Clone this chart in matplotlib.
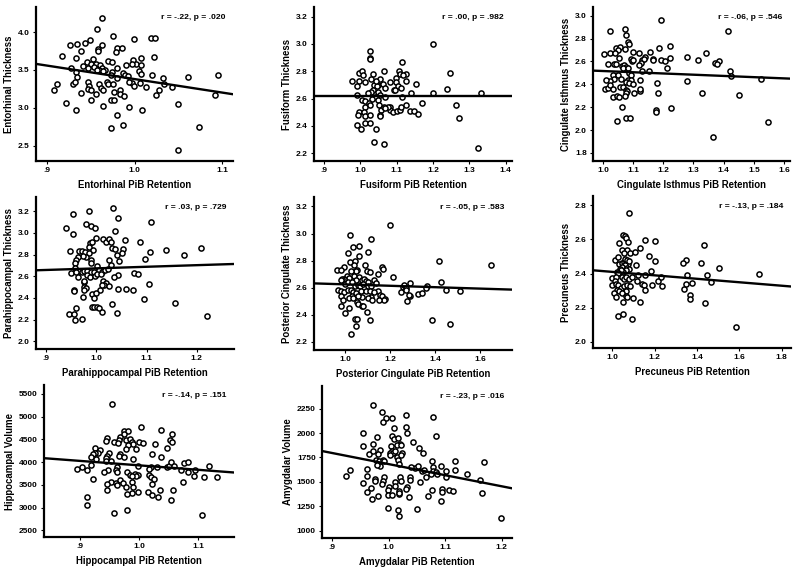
import numpy as np
import matplotlib
matplotlib.use("Agg")
import matplotlib.pyplot as plt

plt.rcParams['font.family'] = ['Liberation Sans', 'DejaVu Sans']
plt.rcParams['font.weight'] = 'bold'

# ---- Entorhinal ----
ent_x = [0.9625, 0.957, 0.975, 0.999, 1.019, 1.023, 0.949, 0.944, 0.935, 0.927, 0.963, 0.980, 0.986, 0.959, 0.959,
         0.939, 0.979, 0.918, 0.934, 1.022, 1.007, 0.953, 0.998, 1.002, 0.970, 0.974, 0.946, 0.950, 0.956, 0.961,
         0.942, 0.947, 0.954, 0.963, 1.007, 0.990, 0.997, 0.980, 0.928, 0.967, 0.960, 0.964, 0.957, 0.974, 0.973,
         0.987, 0.989, 1.005, 1.007, 1.020, 1.032, 1.061, 1.095, 0.933, 0.935, 0.993, 0.980, 0.997, 0.912, 0.908,
         0.939, 0.930, 0.932, 0.947, 0.948, 0.947, 0.960, 0.962, 0.964, 0.969, 0.970, 0.975, 0.977, 0.984, 0.983,
         0.994, 0.999, 1.006, 1.013, 1.034, 1.028, 1.025, 1.043, 0.950, 0.956, 0.950, 0.922, 0.933, 0.964, 0.973,
         0.977, 0.988, 0.994, 1.008, 1.050, 0.980, 0.973, 0.987, 1.073, 1.050, 1.092]
ent_y = [4.19, 4.04, 3.95, 3.91, 3.92, 3.92, 3.90, 3.86, 3.84, 3.83, 3.83, 3.79, 3.79, 3.77, 3.75,
         3.75, 3.74, 3.68, 3.66, 3.67, 3.66, 3.65, 3.63, 3.58, 3.62, 3.60, 3.60, 3.58, 3.58, 3.56,
         3.55, 3.53, 3.54, 3.53, 3.57, 3.57, 3.58, 3.53, 3.52, 3.50, 3.50, 3.48, 3.50, 3.47, 3.44,
         3.46, 3.44, 3.48, 3.45, 3.43, 3.40, 3.41, 3.44, 3.47, 3.41, 3.42, 3.40, 3.33, 3.32, 3.24,
         3.19, 3.32, 3.34, 3.34, 3.29, 3.25, 3.32, 3.26, 3.23, 3.34, 3.31, 3.31, 3.21, 3.23, 3.18,
         3.34, 3.29, 3.33, 3.28, 3.32, 3.24, 3.17, 3.27, 3.23, 3.18, 3.10, 3.06, 2.97, 3.03, 3.10,
         3.10, 3.16, 3.01, 2.97, 3.05, 2.91, 2.74, 2.78, 2.75, 2.45, 3.17]

# ---- Fusiform ----
fus_x = [1.201, 1.028, 1.028, 1.028, 1.116, 1.247, 0.977, 0.997, 1.006, 0.996, 1.008, 1.035, 1.064, 1.107, 1.109,
         1.127, 1.118, 1.098, 1.083, 1.055, 1.012, 1.030, 1.050, 1.062, 1.039, 1.045, 1.035, 1.030, 1.067, 1.099,
         1.104, 1.125, 1.152, 1.113, 1.093, 1.095, 1.021, 1.049, 1.054, 1.067, 1.040, 1.033, 1.049, 1.139, 1.115,
         1.200, 1.239, 1.333, 0.990, 1.005, 1.014, 1.023, 1.012, 1.028, 1.051, 1.056, 1.064, 1.081, 1.083, 1.090,
         1.077, 0.997, 0.995, 1.011, 1.014, 1.028, 1.053, 1.055, 1.067, 1.101, 1.109, 1.113, 1.127, 1.138, 1.149,
         1.158, 1.171, 1.263, 1.271, 0.992, 1.002, 1.014, 1.027, 1.043, 1.037, 1.065, 1.324, 0.990, 1.044]
fus_y = [3.00, 2.95, 2.895, 2.89, 2.87, 2.79, 2.73, 2.79, 2.80, 2.73, 2.77, 2.78, 2.80, 2.80, 2.78,
         2.78, 2.77, 2.75, 2.72, 2.74, 2.72, 2.74, 2.70, 2.71, 2.70, 2.69, 2.66, 2.65, 2.68, 2.72,
         2.69, 2.73, 2.71, 2.68, 2.66, 2.66, 2.64, 2.65, 2.63, 2.61, 2.61, 2.60, 2.59, 2.64, 2.61,
         2.64, 2.67, 2.64, 2.63, 2.59, 2.58, 2.57, 2.54, 2.55, 2.55, 2.52, 2.54, 2.54, 2.52, 2.50,
         2.54, 2.50, 2.48, 2.50, 2.47, 2.48, 2.48, 2.47, 2.53, 2.51, 2.52, 2.54, 2.55, 2.51, 2.51,
         2.49, 2.57, 2.55, 2.46, 2.41, 2.38, 2.42, 2.42, 2.38, 2.28, 2.27, 2.24, 2.69, 2.73]

# ---- Cingulate Isthmus ----
cis_x = [1.194, 1.025, 1.073, 1.413, 1.075, 1.082, 1.085, 1.044, 1.055, 1.049, 1.072, 1.223, 1.185, 1.003, 1.025,
         1.041, 1.099, 1.118, 1.157, 1.340, 1.052, 1.092, 1.095, 1.100, 1.131, 1.138, 1.135, 1.165, 1.167, 1.193,
         1.206, 1.222, 1.277, 1.314, 1.372, 1.383, 1.379, 1.018, 1.038, 1.042, 1.062, 1.071, 1.075, 1.066, 1.082,
         1.127, 1.119, 1.213, 1.151, 1.131, 1.422, 1.425, 1.279, 1.523, 1.033, 1.051, 1.061, 1.087, 1.094, 1.082,
         1.093, 1.075, 1.087, 1.035, 1.025, 1.010, 1.123, 1.007, 1.018, 1.023, 1.033, 1.055, 1.065, 1.075, 1.080,
         1.098, 1.103, 1.122, 1.124, 1.178, 1.181, 1.327, 1.451, 1.034, 1.045, 1.053, 1.076, 1.073, 1.063, 1.227,
         1.176, 1.175, 1.048, 1.077, 1.090, 1.546, 1.364]
cis_y = [2.965, 2.87, 2.88, 2.87, 2.83, 2.77, 2.75, 2.72, 2.73, 2.70, 2.71, 2.735, 2.72, 2.665, 2.67,
         2.67, 2.68, 2.67, 2.68, 2.67, 2.63, 2.62, 2.60, 2.61, 2.61, 2.64, 2.62, 2.62, 2.61, 2.61,
         2.60, 2.63, 2.64, 2.61, 2.59, 2.60, 2.58, 2.58, 2.58, 2.575, 2.56, 2.565, 2.55, 2.54, 2.54,
         2.59, 2.57, 2.54, 2.52, 2.52, 2.52, 2.47, 2.43, 2.45, 2.48, 2.48, 2.45, 2.50, 2.48, 2.44,
         2.44, 2.42, 2.41, 2.45, 2.43, 2.44, 2.44, 2.36, 2.37, 2.39, 2.36, 2.38, 2.38, 2.35, 2.34,
         2.40, 2.32, 2.34, 2.36, 2.41, 2.32, 2.32, 2.31, 2.29, 2.30, 2.29, 2.32, 2.30, 2.20, 2.19,
         2.18, 2.16, 2.08, 2.105, 2.105, 2.07, 1.94]

# ---- Parahippocampal ----
par_x = [1.033, 0.985, 0.954, 1.044, 0.979, 0.989, 0.998, 1.108, 0.939, 0.953, 1.038, 1.000, 1.014, 1.019, 1.025,
         1.029, 0.988, 0.991, 1.058, 1.086, 0.986, 1.032, 1.037, 1.054, 1.139, 1.209, 1.106, 0.966, 0.972, 0.977,
         0.948, 0.993, 0.986, 0.980, 0.974, 1.041, 1.051, 1.175, 0.963, 1.096, 0.960, 0.958, 0.989, 0.989, 1.026,
         1.045, 1.029, 0.958, 0.966, 0.971, 0.975, 0.982, 0.989, 0.995, 1.001, 1.005, 0.950, 0.960, 1.011, 1.018,
         1.023, 1.076, 1.082, 0.963, 0.981, 0.987, 0.998, 1.002, 1.010, 1.044, 1.035, 0.975, 0.976, 1.013, 1.019,
         1.016, 1.025, 0.976, 0.979, 0.956, 0.956, 0.975, 1.007, 1.011, 0.991, 0.999, 1.044, 1.060, 1.074, 1.105,
         0.974, 0.996, 1.094, 1.156, 1.032, 0.959, 0.991, 0.995, 1.001, 1.006, 1.011, 1.042, 0.946, 0.956, 0.957,
         0.971, 1.220]
par_y = [3.23, 3.20, 3.17, 3.14, 3.08, 3.06, 3.04, 3.10, 3.04, 2.99, 3.02, 2.955, 2.94, 2.92, 2.94,
         2.92, 2.91, 2.92, 2.93, 2.92, 2.87, 2.86, 2.85, 2.85, 2.84, 2.86, 2.82, 2.83, 2.83, 2.82,
         2.83, 2.84, 2.81, 2.78, 2.79, 2.80, 2.81, 2.80, 2.78, 2.76, 2.75, 2.72, 2.75, 2.72, 2.75,
         2.74, 2.70, 2.68, 2.65, 2.64, 2.65, 2.65, 2.64, 2.64, 2.69, 2.66, 2.63, 2.64, 2.64, 2.66,
         2.67, 2.63, 2.62, 2.59, 2.61, 2.59, 2.60, 2.62, 2.62, 2.61, 2.59, 2.55, 2.56, 2.56, 2.54,
         2.52, 2.51, 2.50, 2.49, 2.47, 2.46, 2.47, 2.47, 2.52, 2.44, 2.45, 2.48, 2.485, 2.47, 2.53,
         2.41, 2.40, 2.39, 2.35, 2.345, 2.31, 2.32, 2.32, 2.32, 2.31, 2.27, 2.26, 2.25, 2.25, 2.20,
         2.21, 2.23]

# ---- Posterior Cingulate ----
pcc_x = [1.198, 1.019, 1.114, 1.033, 1.061, 1.013, 1.101, 1.061, 1.418, 1.022, 1.042, 1.039, 1.088, 1.648, 0.994,
         1.052, 1.048, 1.037, 1.165, 1.169, 1.097, 1.111, 1.027, 0.961, 0.981, 1.144, 1.212, 1.009, 1.018, 0.996,
         0.985, 0.979, 1.059, 1.048, 1.073, 1.083, 1.094, 1.103, 1.128, 0.999, 1.013, 1.031, 1.042, 1.055, 1.065,
         1.080, 1.103, 1.116, 1.138, 1.256, 1.262, 1.270, 1.288, 1.363, 1.360, 1.428, 1.248, 1.272, 1.450, 1.513,
         0.966, 0.981, 0.996, 1.010, 1.027, 1.034, 1.046, 1.068, 1.091, 1.108, 1.144, 1.129, 1.155, 1.165, 1.176,
         1.171, 1.114, 1.100, 1.073, 1.120, 1.150, 0.981, 0.988, 1.030, 1.015, 1.036, 1.058, 1.275, 1.288, 1.325,
         1.343, 1.284, 0.981, 0.999, 1.015, 1.053, 1.058, 1.073, 1.079, 1.098, 1.110, 1.045, 1.051, 1.048, 1.027,
         1.386, 1.468]
pcc_y = [3.065, 2.986, 2.96, 2.90, 2.91, 2.856, 2.866, 2.836, 2.80, 2.79, 2.80, 2.77, 2.77, 2.765, 2.75,
         2.73, 2.72, 2.69, 2.75, 2.74, 2.725, 2.716, 2.72, 2.73, 2.73, 2.70, 2.68, 2.684, 2.672, 2.664,
         2.667, 2.655, 2.68, 2.655, 2.655, 2.664, 2.647, 2.64, 2.66, 2.63, 2.64, 2.645, 2.613, 2.623, 2.61,
         2.63, 2.61, 2.61, 2.637, 2.605, 2.617, 2.60, 2.635, 2.61, 2.60, 2.64, 2.569, 2.58, 2.58, 2.576,
         2.58, 2.573, 2.568, 2.58, 2.58, 2.566, 2.56, 2.576, 2.576, 2.573, 2.576, 2.568, 2.549, 2.54, 2.52,
         2.507, 2.532, 2.524, 2.534, 2.51, 2.51, 2.537, 2.507, 2.539, 2.527, 2.527, 2.537, 2.505, 2.54, 2.556,
         2.56, 2.546, 2.463, 2.416, 2.453, 2.492, 2.478, 2.468, 2.463, 2.42, 2.36, 2.372, 2.372, 2.316, 2.26,
         2.365, 2.335]

# ---- Precuneus ----
prc_x = [1.079, 1.050, 1.058, 1.066, 1.033, 1.075, 1.153, 1.203, 1.431, 1.047, 1.071, 1.055, 1.082, 1.129, 1.107,
         1.175, 1.200, 1.013, 1.027, 1.346, 1.333, 1.420, 1.502, 1.110, 1.031, 1.044, 1.055, 1.066, 1.075, 1.060,
         1.047, 1.068, 1.035, 1.077, 1.063, 1.053, 1.042, 1.022, 1.027, 1.058, 1.069, 1.080, 1.123, 1.184, 1.156,
         1.000, 1.016, 1.011, 1.047, 1.055, 1.066, 1.077, 1.091, 1.115, 1.140, 1.148, 1.154, 1.187, 1.215, 1.231,
         1.236, 1.355, 1.338, 1.349, 1.376, 1.447, 1.464, 1.695, 1.000, 1.016, 1.025, 1.039, 1.055, 1.071, 1.085,
         1.020, 1.030, 1.066, 1.008, 1.046, 1.066, 1.071, 1.019, 1.096, 1.050, 1.368, 1.369, 1.440, 1.132, 1.025,
         1.050, 1.093, 1.585]
prc_y = [2.753, 2.628, 2.620, 2.609, 2.578, 2.583, 2.599, 2.593, 2.568, 2.539, 2.539, 2.519, 2.519, 2.550, 2.527,
         2.503, 2.476, 2.480, 2.496, 2.480, 2.460, 2.462, 2.435, 2.453, 2.457, 2.460, 2.470, 2.464, 2.457, 2.449,
         2.441, 2.433, 2.429, 2.425, 2.418, 2.410, 2.421, 2.410, 2.402, 2.484, 2.480, 2.474, 2.392, 2.412, 2.390,
         2.371, 2.379, 2.359, 2.379, 2.367, 2.379, 2.367, 2.379, 2.357, 2.340, 2.330, 2.304, 2.332, 2.357, 2.379,
         2.326, 2.394, 2.312, 2.336, 2.347, 2.394, 2.349, 2.398, 2.334, 2.340, 2.334, 2.318, 2.324, 2.334, 2.324,
         2.304, 2.297, 2.295, 2.285, 2.285, 2.269, 2.261, 2.261, 2.258, 2.234, 2.273, 2.248, 2.228, 2.234, 2.152,
         2.164, 2.135, 2.084]

# ---- Hippocampal ----
hip_x = [0.954, 1.003, 1.037, 1.056, 0.945, 0.975, 0.981, 0.975, 0.968, 0.966, 0.944, 0.958, 0.964, 0.978, 0.985,
         0.988, 0.990, 0.999, 1.006, 0.981, 0.977, 0.995, 1.027, 1.047, 1.052, 1.055, 0.926, 0.934, 0.930, 0.926,
         0.922, 0.918, 0.949, 0.946, 0.944, 0.967, 0.965, 0.975, 1.037, 1.021, 0.927, 0.944, 0.953, 0.990, 0.919,
         0.904, 0.963, 0.961, 0.963, 0.997, 1.019, 1.016, 1.030, 1.047, 1.051, 1.054, 1.059, 1.075, 1.083, 1.071,
         1.082, 1.094, 1.117, 0.894, 0.912, 0.947, 0.940, 0.980, 0.985, 0.992, 0.997, 0.994, 0.988, 1.017, 1.019,
         1.092, 1.110, 1.131, 0.921, 0.952, 0.960, 0.963, 0.968, 0.972, 0.977, 0.988, 0.990, 1.022, 1.024, 0.945,
         0.945, 1.073, 1.057, 1.035, 1.014, 1.021, 1.032, 0.997, 0.987, 0.979, 0.912, 0.912, 1.053, 0.958, 0.979,
         1.106]
hip_y = [5273, 4783, 4710, 4629, 4534, 4695, 4695, 4622, 4563, 4490, 4468, 4446, 4417, 4490, 4504,
         4446, 4402, 4446, 4431, 4373, 4285, 4285, 4402, 4307, 4490, 4453, 4321, 4270, 4212, 4212,
         4183, 4117, 4212, 4139, 4102, 4175, 4139, 4124, 4109, 4183, 4065, 4014, 4021, 4065, 3941,
         3890, 3890, 3831, 3780, 3919, 3890, 3846, 3883, 3890, 3919, 3992, 3919, 3977, 3999, 3831,
         3773, 3831, 3919, 3846, 3831, 3831, 3773, 3773, 3722, 3743, 3722, 3685, 3685, 3722, 3670,
         3685, 3670, 3663, 3626, 3560, 3538, 3494, 3611, 3538, 3450, 3553, 3450, 3516, 3633, 3516,
         3384, 3553, 3392, 3377, 3333, 3282, 3223, 3333, 3318, 3304, 3230, 3062, 3158, 2879, 2938,
         2843]

# ---- Amygdalar ----
amy_x = [0.972, 0.988, 1.006, 0.995, 0.990, 1.030, 1.078, 1.010, 1.030, 1.032, 0.955, 1.006, 1.009, 1.017, 1.020,
         1.015, 1.084, 0.979, 0.972, 1.043, 0.955, 1.054, 1.061, 0.965, 1.015, 1.017, 1.076, 1.118, 1.169, 1.018,
         1.047, 1.052, 1.092, 0.984, 0.962, 1.039, 1.101, 1.118, 1.138, 1.162, 1.059, 1.062, 0.931, 0.961, 0.925,
         1.101, 1.078, 0.976, 0.976, 1.022, 1.004, 1.005, 1.002, 1.008, 1.011, 1.003, 1.024, 1.021, 0.984, 0.981,
         0.972, 0.978, 0.982, 0.989, 0.992, 0.979, 1.078, 1.084, 1.085, 1.066, 1.074, 0.992, 0.990, 0.988, 1.011,
         1.011, 1.020, 1.022, 1.038, 1.038, 1.056, 0.955, 0.968, 1.001, 0.998, 1.019, 1.033, 1.031, 1.036, 1.077,
         1.094, 1.095, 1.106, 1.114, 1.165, 0.981, 0.962, 0.970, 0.998, 1.005, 1.019, 1.019, 1.069, 1.092, 1.050,
         0.998, 1.016, 1.018, 1.199]
amy_y = [2291, 2216, 2158, 2154, 2110, 2182, 2165, 2052, 2066, 2004, 2004, 1970, 1936, 1946, 1885,
         1878, 1967, 1956, 1888, 1909, 1871, 1850, 1799, 1785, 1758, 1724, 1717, 1710, 1707, 1680,
         1646, 1667, 1663, 1666, 1628, 1649, 1615, 1621, 1577, 1519, 1611, 1620, 1622, 1564, 1560,
         1547, 1656, 1526, 1505, 1874, 1868, 1820, 1792, 1799, 1816, 1775, 1796, 1772, 1827, 1786,
         1820, 1724, 1714, 1724, 1714, 1673, 1611, 1605, 1581, 1553, 1581, 1553, 1512, 1475, 1499,
         1458, 1553, 1512, 1547, 1519, 1502, 1492, 1434, 1451, 1417, 1410, 1444, 1430, 1345, 1417,
         1424, 1400, 1417, 1406, 1389, 1359, 1396, 1328, 1366, 1366, 1372, 1389, 1355, 1307, 1222,
         1236, 1212, 1150, 1126]

# fitted lines as drawn in the picture: value at left and right end of each x range
fit_left = [3.58, 2.62, 2.52, 2.655, 2.632, 2.419, 4087, 1816]
fit_right = [3.18, 2.62, 2.45, 2.713, 2.586, 2.324, 3772, 1434]

# panel texts and ticks
panels = [
    dict(x=ent_x, y=ent_y, xlab="Entorhinal PiB Retention", ylab="Entorhinal Thickness", stat="r = -.22, p = .020",
         xt=[0.9, 1.0, 1.1], xtl=[".9", "1.0", "1.1"], yt=[2.5, 3.0, 3.5, 4.0], ytl=["2.5", "3.0", "3.5", "4.0"],
         xlim=(0.888, 1.112), ylim=(2.30, 4.33), px=(36, 233, 7, 161)),
    dict(x=fus_x, y=fus_y, xlab="Fusiform PiB Retention", ylab="Fusiform Thickness", stat="r = .00, p = .982",
         xt=[0.9, 1.0, 1.1, 1.2, 1.3, 1.4], xtl=[".9", "1.0", "1.1", "1.2", "1.3", "1.4"],
         yt=[2.2, 2.4, 2.6, 2.8, 3.0, 3.2], ytl=["2.2", "2.4", "2.6", "2.8", "3.0", "3.2"],
         xlim=(0.873, 1.417), ylim=(2.144, 3.27), px=(314, 512, 7, 161)),
    dict(x=cis_x, y=cis_y, xlab="Cingulate Isthmus PiB Retention", ylab="Cingulate Isthmus Thickness",
         stat="r = -.06, p = .546",
         xt=[1.0, 1.1, 1.2, 1.3, 1.4, 1.5, 1.6], xtl=["1.0", "1.1", "1.2", "1.3", "1.4", "1.5", "1.6"],
         yt=[1.8, 2.0, 2.2, 2.4, 2.6, 2.8, 3.0], ytl=["1.8", "2.0", "2.2", "2.4", "2.6", "2.8", "3.0"],
         xlim=(0.967, 1.62), ylim=(1.73, 3.076), px=(593, 790, 7, 161)),
    dict(x=par_x, y=par_y, xlab="Parahippocampal PiB Retention", ylab="Parahippocampal Thickness",
         stat="r = .03, p = .729",
         xt=[0.9, 1.0, 1.1, 1.2], xtl=[".9", "1.0", "1.1", "1.2"],
         yt=[2.0, 2.2, 2.4, 2.6, 2.8, 3.0, 3.2], ytl=["2.0", "2.2", "2.4", "2.6", "2.8", "3.0", "3.2"],
         xlim=(0.880, 1.274), ylim=(1.93, 3.33), px=(36, 234, 197, 349)),
    dict(x=pcc_x, y=pcc_y, xlab="Posterior Cingulate PiB Retention", ylab="Posterior Cingulate Thickness",
         stat="r = -.05, p = .583",
         xt=[1.0, 1.2, 1.4, 1.6], xtl=["1.0", "1.2", "1.4", "1.6"],
         yt=[2.2, 2.4, 2.6, 2.8, 3.0, 3.2], ytl=["2.2", "2.4", "2.6", "2.8", "3.0", "3.2"],
         xlim=(0.860, 1.743), ylim=(2.14, 3.27), px=(314, 512, 197, 350)),
    dict(x=prc_x, y=prc_y, xlab="Precuneus PiB Retention", ylab="Precuneus Thickness", stat="r = -.13, p = .184",
         xt=[1.0, 1.2, 1.4, 1.6, 1.8], xtl=["1.0", "1.2", "1.4", "1.6", "1.8"],
         yt=[2.0, 2.2, 2.4, 2.6, 2.8], ytl=["2.0", "2.2", "2.4", "2.6", "2.8"],
         xlim=(0.909, 1.844), ylim=(1.963, 2.855), px=(593, 791, 196, 348)),
    dict(x=hip_x, y=hip_y, xlab="Hippocampal PiB Retention", ylab="Hippocampal Volume", stat="r = -.14, p = .151",
         xt=[0.9, 1.0, 1.1], xtl=[".9", "1.0", "1.1"],
         yt=[2500, 3000, 3500, 4000, 4500, 5000, 5500],
         ytl=["2500", "3000", "3500", "4000", "4500", "5000", "5500"],
         xlim=(0.839, 1.160), ylim=(2352, 5698), px=(44, 234, 385, 537)),
    dict(x=amy_x, y=amy_y, xlab="Amygdalar PiB Retention", ylab="Amygdalar Volume", stat="r = -.23, p = .016",
         xt=[0.9, 1.0, 1.1, 1.2], xtl=[".9", "1.0", "1.1", "1.2"],
         yt=[1000, 1250, 1500, 1750, 2000, 2250], ytl=["1000", "1250", "1500", "1750", "2000", "2250"],
         xlim=(0.882, 1.218), ylim=(925, 2482), px=(322, 512, 386, 538)),
]

W, H = 800, 576
fig = plt.figure(figsize=(8, 5.76), dpi=100)

for i, p in enumerate(panels):
    l, r, t, b = p["px"]
    ax = fig.add_axes([l / W, 1 - b / H, (r - l) / W, (b - t) / H])
    ax.plot(p["x"], p["y"], 'o', mfc='white', mec='black', ms=3.7, mew=1.1, zorder=3)
    ax.plot(p["xlim"], [fit_left[i], fit_right[i]], color='black', lw=1.7, zorder=4)
    ax.set_xlim(p["xlim"])
    ax.set_ylim(p["ylim"])
    ax.set_xticks(p["xt"])
    ax.set_xticklabels(p["xtl"])
    ax.set_yticks(p["yt"])
    ax.set_yticklabels(p["ytl"])
    for s in ["top", "right"]:
        ax.spines[s].set_visible(False)
    for s in ["left", "bottom"]:
        ax.spines[s].set_linewidth(1.6)
    ax.tick_params(direction='out', length=2.5, width=0.8, labelsize=6, pad=2)
    for lab in ax.get_xticklabels() + ax.get_yticklabels():
        lab.set_fontweight('bold')
    ax.set_xlabel(p["xlab"], fontsize=6.9, fontweight='bold', labelpad=4)
    ax.set_ylabel(p["ylab"], fontsize=6.9, fontweight='bold', labelpad=3)
    ax.text(0.96, 0.93, p["stat"], transform=ax.transAxes, ha='right', va='center',
            fontsize=6.1, fontweight='bold')

fig.savefig("out.png", dpi=100)
